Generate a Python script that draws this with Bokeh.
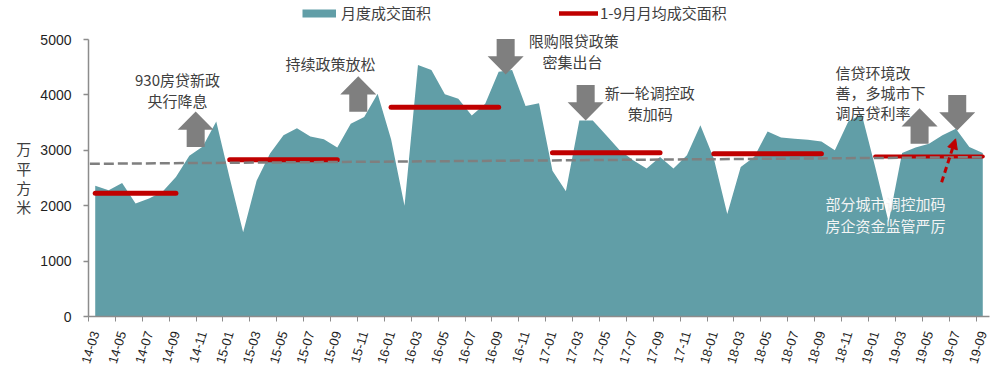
from bokeh.plotting import figure
from bokeh.models import Range1d, FixedTicker, Label, Legend, LegendItem, Arrow, NormalHead
from bokeh.embed import file_html
from bokeh.resources import INLINE

# ---------------- data ----------------
months = ["14-03", "14-04", "14-05", "14-06", "14-07", "14-08", "14-09", "14-10", "14-11", "14-12",
          "15-01", "15-02", "15-03", "15-04", "15-05", "15-06", "15-07", "15-08", "15-09", "15-10", "15-11", "15-12",
          "16-01", "16-02", "16-03", "16-04", "16-05", "16-06", "16-07", "16-08", "16-09", "16-10", "16-11", "16-12",
          "17-01", "17-02", "17-03", "17-04", "17-05", "17-06", "17-07", "17-08", "17-09", "17-10", "17-11", "17-12",
          "18-01", "18-02", "18-03", "18-04", "18-05", "18-06", "18-07", "18-08", "18-09", "18-10", "18-11", "18-12",
          "19-01", "19-02", "19-03", "19-04", "19-05", "19-06", "19-07", "19-08", "19-09"]

volume = [2360, 2280, 2410, 2040, 2130, 2250, 2520, 2900, 3070, 3520,
          2500, 1520, 2450, 2940, 3270, 3400, 3250, 3200, 3050, 3480, 3600, 4020,
          3200, 2000, 4540, 4450, 4010, 3930, 3630, 3840, 4420, 4450, 3800, 3850,
          2630, 2260, 3540, 3540, 3270, 3000, 2820, 2670, 2880, 2670, 2910, 3450,
          2850, 1850, 2700, 2880, 3340, 3230, 3210, 3190, 3160, 3000, 3520, 3650,
          2700, 1700, 2950, 3050, 3120, 3270, 3390, 3060, 2950]

avg_start = ["14-03", "15-01", "16-01", "17-01", "18-01", "19-01"]
avg_end = ["14-09", "15-09", "16-09", "17-09", "18-09", "19-09"]
avg_value = [2226, 2829, 3778, 2954, 2936, 2888]

trend_value = [2756, 2876]          # start / end of linear trend line

# policy arrows: month position (fractional), tip value, direction (1 up, -1 down)
arrow_pos = [7.47, 19.56, 30.52, 36.47, 61.3, 64.1]
arrow_tip = [3700, 4337, 4368, 3538, 3760, 3357]
arrow_dir = [1, 1, -1, -1, 1, -1]

y_ticks = [0, 1000, 2000, 3000, 4000, 5000]

TEAL = "#619ea7"
RED = "#c00000"
GRAY = "#7f7f7f"
AXIS = "#8c8c8c"
TXT = "#404040"
CJK = "Noto Sans CJK SC"

idx = list(range(len(months)))
pos = {m: i for i, m in enumerate(months)}

# frame spans from the top of the page down to the x axis; the y axis itself stops at 5000
p = figure(width=998, height=370, x_range=Range1d(-0.5, len(months) - 0.5),
           y_range=Range1d(0, 5704), output_backend="svg", toolbar_location=None,
           min_border_left=88, min_border_right=9, min_border_top=0, min_border_bottom=54)
p.xgrid.visible = False
p.ygrid.visible = False
p.outline_line_color = None
p.background_fill_color = "white"

# area
area = p.varea(x=idx, y1=[0] * len(idx), y2=volume, fill_color=TEAL)

# yearly averages
for s, e, v in zip(avg_start, avg_end, avg_value):
    w = 4 if s.startswith("19") else 5
    p.line([pos[s], pos[e]], [v, v], line_color=RED, line_width=w, line_cap="round")

# trend
p.line([-0.4, len(months) - 1], trend_value, line_color=GRAY, line_width=2.5, line_dash="10 4")

# block arrows
HEAD_H, TOTAL, HH, HS = 330, 640, 1.34, 0.67
axs, ays = [], []
for x, t, d in zip(arrow_pos, arrow_tip, arrow_dir):
    base = t - d * HEAD_H
    bot = t - d * TOTAL
    axs.append([x, x + HH, x + HS, x + HS, x - HS, x - HS, x - HH])
    ays.append([t, base, base, bot, bot, base, base])
ar = p.patches(axs, ays, fill_color=GRAY, line_color=None)
ar.level = "overlay"

# red dashed arrow
p.add_layout(Arrow(x_start=62.94, y_start=2424, x_end=63.98, y_end=3207,
                   line_color=RED, line_width=3, line_dash="6 4",
                   end=NormalHead(size=10, fill_color=RED, line_color=RED)))

# axes
p.xaxis.ticker = FixedTicker(ticks=list(range(0, len(months), 2)),
                             minor_ticks=[i - 0.5 for i in range(0, len(months), 2)])
p.xaxis.major_label_overrides = {i: months[i] for i in range(0, len(months), 2)}
p.xaxis.major_label_orientation = 1.27
p.xaxis.major_tick_out = 0
p.xaxis.major_tick_in = 0
p.xaxis.minor_tick_out = 5
p.xaxis.minor_tick_in = 0
p.xaxis.minor_tick_line_color = AXIS
p.xaxis.major_label_standoff = 10
p.xaxis.major_label_text_font = "Liberation Sans"
p.xaxis.major_label_text_font_size = "13px"
p.xaxis.major_label_text_color = "#1f1f1f"

p.yaxis.ticker = FixedTicker(ticks=y_ticks)
p.yaxis.bounds = (y_ticks[0], y_ticks[-1])
p.yaxis.major_tick_out = 5
p.yaxis.major_tick_in = 0
p.yaxis.minor_tick_out = 0
p.yaxis.minor_tick_in = 0
p.yaxis.major_label_standoff = 12
p.yaxis.major_label_text_font = "Liberation Sans"
p.yaxis.major_label_text_font_size = "14px"
p.yaxis.major_label_text_color = "#1f1f1f"
p.yaxis.axis_label = "\u3000\n\u3000\n万\n平\n方\n米"
p.yaxis.axis_label_orientation = "horizontal"
p.yaxis.axis_label_text_font = CJK
p.yaxis.axis_label_text_font_size = "15px"
p.yaxis.axis_label_text_font_style = "normal"
p.yaxis.axis_label_text_color = TXT
p.yaxis.axis_label_text_line_height = 0.92
p.yaxis.axis_label_standoff = 6
for ax in (p.xaxis, p.yaxis):
    ax.axis_line_color = AXIS
    ax.axis_line_width = 1.5
    ax.major_tick_line_color = AXIS
    ax.major_tick_line_width = 1.5

# annotations
notes = [
    ("930房贷新政", 6.12, 4278, "center", TXT),
    ("央行降息", 6.12, 3899, "center", TXT),
    ("持续政策放松", 17.49, 4572, "center", TXT),
    ("限购限贷政策", 35.58, 4982, "center", TXT),
    ("密集出台", 35.5, 4608, "center", TXT),
    ("新一轮调控政", 41.23, 4049, "center", TXT),
    ("策加码", 41.28, 3670, "center", TXT),
    ("信贷环境改", 55.04, 4410, "left", TXT),
    ("善，多城市下", 55.04, 4049, "left", TXT),
    ("调房贷利率", 55.04, 3688, "left", TXT),
    ("部分城市调控加码", 54.3, 2045, "left", "#f4f4f4"),
    ("房企资金监管严厉", 54.3, 1643, "left", "#f4f4f4"),
]
for t, x, y, al, c in notes:
    p.add_layout(Label(x=x, y=y, text=t, text_align=al, text_baseline="middle",
                       text_font=CJK, text_font_size="15px", text_color=c))

# legend proxies (kept off-screen; only their legend swatches are visible)
l1 = p.line(x=[-20, -19], y=[-500, -500], line_color=TEAL, line_width=8)
l2 = p.line(x=[-20, -19], y=[-500, -500], line_color=RED, line_width=4.5, line_cap="round")
leg1 = Legend(items=[LegendItem(label="月度成交面积", renderers=[l1])], location=(214, 293),
              glyph_width=34, glyph_height=16, label_height=16, label_standoff=5,
              padding=0, margin=0, border_line_color=None, background_fill_alpha=0,
              label_text_font=CJK, label_text_font_size="15px", label_text_color=TXT)
leg2 = Legend(items=[LegendItem(label="1-9月月均成交面积", renderers=[l2])], location=(471, 293),
              glyph_width=39, glyph_height=16, label_height=16, label_standoff=2,
              padding=0, margin=0, border_line_color=None, background_fill_alpha=0,
              label_text_font=CJK, label_text_font_size="15px", label_text_color=TXT)
p.add_layout(leg1, "center")
p.add_layout(leg2, "center")

open("out.html", "w").write(file_html(p, INLINE))
